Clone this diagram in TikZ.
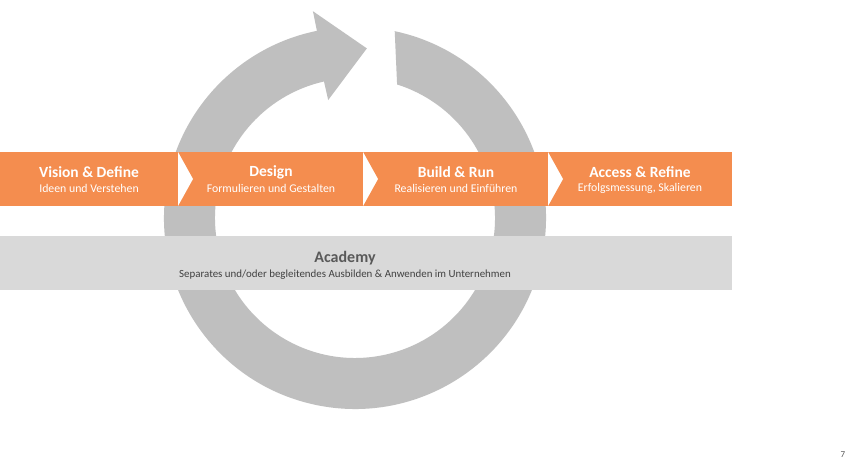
\documentclass[tikz,border=0pt]{standalone}
\usepackage{fontspec}
\setmainfont{Carlito}
\usetikzlibrary{calc}
\definecolor{ringgray}{RGB}{191,191,191}
\definecolor{bandgray}{RGB}{217,217,217}
\definecolor{orng}{RGB}{244,141,79}
\definecolor{darktxt}{RGB}{89,89,89}
\definecolor{subtxt}{RGB}{64,64,64}
\begin{document}
\begin{tikzpicture}[x=1pt,y=1pt,
  ttl/.style={text=white,font=\fontsize{15.5}{17}\selectfont\bfseries,inner sep=0pt},
  sub/.style={text=white,font=\fontsize{11.8}{13}\selectfont,inner sep=0pt},
  notch/.style={fill=white}]
\useasboundingbox[fill=white] (0,0) rectangle (854,470);
\coordinate (c) at (355,252);
% cycle arrow
\fill[ringgray] ($(c)+(78:191)$) arc[start angle=78,end angle=-258.5,radius=191]
  -- ($(c)+(101.5:211)$) -- ($(c)+(86:170)$) -- ($(c)+(102.8:121)$)
  -- ($(c)+(102.8:140)$) arc[start angle=-257.2,end angle=72.5,radius=140] -- cycle;
% orange process band
\fill[orng] (0,318) rectangle (732,264);
\fill[notch] (178,318) -- (193,291) -- (178,264) -- cycle;
\fill[notch] (363,318) -- (378,291) -- (363,264) -- cycle;
\fill[notch] (548,318) -- (563,291) -- (548,264) -- cycle;
\node[ttl] (t1) at (89,298) {Vision \& Define};
\node[sub] (s1) at (89,281.5) {Ideen und Verstehen};
\node[ttl] (t2) at (271,298) {Design};
\node[sub] (s2) at (271,281.5) {Formulieren und Gestalten};
\node[ttl] (t3) at (456,298) {Build \& Run};
\node[sub] (s3) at (456,281.5) {Realisieren und Einführen};
\node[ttl] (t4) at (640,298) {Access \& Refine};
\node[sub] (s4) at (640,281.5) {Erfolgsmessung, Skalieren};
% academy band
\fill[bandgray] (0,234) rectangle (732,180);
\node[inner sep=0pt,text=darktxt,font=\fontsize{16}{18}\selectfont\bfseries] (ac) at (345,212) {Academy};
\node[inner sep=0pt,text=subtxt,font=\fontsize{10.9}{12}\selectfont] (acs) at (345,195.5) {Separates und/oder begleitendes Ausbilden \& Anwenden im Unternehmen};
\node[inner sep=0pt,text=darktxt,font=\fontsize{9}{10}\selectfont] (pg) at (843,15) {7};
\end{tikzpicture}
\end{document}
